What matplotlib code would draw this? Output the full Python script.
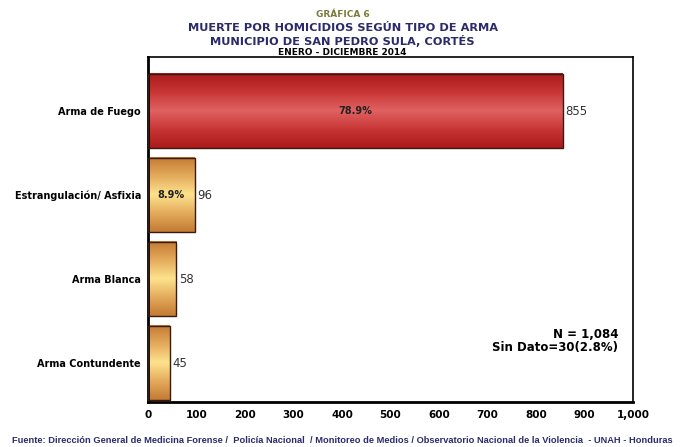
import numpy as np
import matplotlib.pyplot as plt
from matplotlib.colors import LinearSegmentedColormap
from matplotlib.patches import Rectangle

categorias = ["Arma de Fuego", "Estrangulación/ Asfixia", "Arma Blanca", "Arma Contundente"]
valores = [855, 96, 58, 45]
porcentajes = ["78.9%", "8.9%", "", ""]
ticks_x = [0, 100, 200, 300, 400, 500, 600, 700, 800, 900, 1000]

rojo = LinearSegmentedColormap.from_list("rojo", ["#ab1a1a", "#c83535", "#e06262", "#c83535", "#ab1a1a"])
naranja = LinearSegmentedColormap.from_list("naranja", ["#c47a32", "#e3aa5c", "#fde28c", "#e3aa5c", "#c47a32"])

fig = plt.figure(figsize=(6.85, 4.47), dpi=100)
ax = fig.add_axes([0.216, 0.1007, 0.708, 0.7718])

alto = 0.89
grad = np.linspace(0, 1, 256).reshape(-1, 1)
for i, v in enumerate(valores):
    cmap = rojo if i == 0 else naranja
    ax.imshow(grad, cmap=cmap, aspect="auto", extent=(0, v, i + alto / 2, i - alto / 2),
              interpolation="bilinear", zorder=2)
    ax.add_patch(Rectangle((0, i - alto / 2), v, alto, fill=False, edgecolor="#3a1a10", lw=1.0, zorder=3))
    ax.text(v + 6, i, str(v), va="center", ha="left", fontsize=8.5, color="#333333")
    if porcentajes[i]:
        ax.text(v / 2, i, porcentajes[i], va="center", ha="center", fontsize=7, fontweight="bold", color="#222222", zorder=4)

ax.set_xlim(0, 1000)
ax.set_ylim(3.464, -0.643)
ax.set_xticks(ticks_x)
ax.set_xticklabels(["{:,}".format(t) for t in ticks_x], fontsize=7.5, fontweight="bold")
ax.set_yticks(range(len(categorias)))
ax.set_yticklabels(categorias, fontsize=7, fontweight="bold")
ax.tick_params(length=0, pad=6)
ax.tick_params(axis="y", pad=5)
for s in ax.spines.values():
    s.set_linewidth(1.2)
    s.set_color("black")
ax.spines["left"].set_linewidth(2)
ax.spines["bottom"].set_linewidth(2)

ax.text(0.97, 0.177, "N = 1,084\nSin Dato=30(2.8%)", transform=ax.transAxes, ha="right", va="center",
        fontsize=8.5, fontweight="bold", linespacing=1.0)

fig.text(0.5, 0.962, "GRÁFICA 6", ha="center", fontsize=6.5, fontweight="bold", color="#7b7b3a")
fig.text(0.5, 0.93, "MUERTE POR HOMICIDIOS SEGÚN TIPO DE ARMA", ha="center", fontsize=8.2, fontweight="bold", color="#2b2b6b")
fig.text(0.5, 0.9, "MUNICIPIO DE SAN PEDRO SULA, CORTÉS", ha="center", fontsize=8.2, fontweight="bold", color="#2b2b6b")
fig.text(0.5, 0.877, "ENERO - DICIEMBRE 2014", ha="center", fontsize=6.5, fontweight="bold", color="black")

fig.text(0.5, 0.008, "Fuente: Dirección General de Medicina Forense /  Policía Nacional  / Monitoreo de Medios / Observatorio Nacional de la Violencia  - UNAH - Honduras",
         ha="center", fontsize=6.7, fontweight="bold", color="#2b2b6b", family="Liberation Sans")

fig.savefig("out.png", dpi=100)
